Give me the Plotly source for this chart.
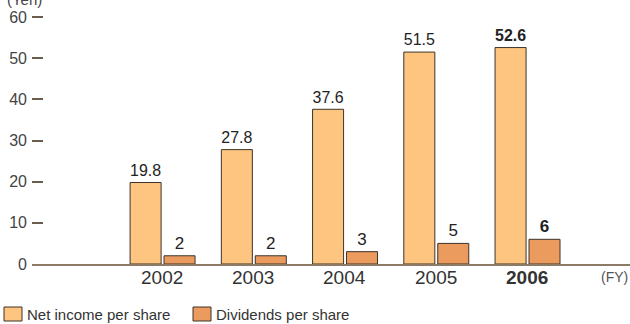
import plotly.graph_objects as go

years = ["2002", "2003", "2004", "2005", "2006"]
net_income = [19.8, 27.8, 37.6, 51.5, 52.6]
dividends = [2, 2, 3, 5, 6]
y_ticks = [0, 10, 20, 30, 40, 50, 60]
legend_names = ["Net income per share", "Dividends per share"]

C_NET = "#FDC580"
C_DIV = "#EB9B5E"
C_EDGE = "#3d3329"
FONT = "Liberation Sans"

W, H = 630, 324
L, R, T, B = 32, 0, 13, 60
PW, PH = W - L - R, H - T - B


def px_x(px):
    return (px - L) / PW


def px_y(py):
    return (H - B - py) / PH


def lab(vals):
    out = []
    for i, v in enumerate(vals):
        s = f"{v:g}"
        out.append(f"<b>{s}</b>" if i == len(vals) - 1 else s)
    return out


fig = go.Figure()
fig.add_bar(x=years, y=net_income, name=legend_names[0], width=0.34, offset=-0.35,
            marker=dict(color=C_NET, line=dict(color=C_EDGE, width=1)),
            text=lab(net_income), textposition="outside", cliponaxis=False,
            textfont=dict(size=17, color="#222", family=FONT), showlegend=False)
fig.add_bar(x=years, y=dividends, name=legend_names[1], width=0.34, offset=0.022,
            marker=dict(color=C_DIV, line=dict(color=C_EDGE, width=1)),
            text=lab(dividends), textposition="outside", cliponaxis=False,
            textfont=dict(size=17, color="#222", family=FONT), showlegend=False)

fig.update_layout(
    width=W, height=H, margin=dict(l=L, r=R, t=T, b=B),
    paper_bgcolor="white", plot_bgcolor="white",
    font=dict(family=FONT, color="#333"),
    xaxis=dict(type="category", categoryorder="array", categoryarray=years,
               range=[-1.425, 5.129], showgrid=False, zeroline=False,
               showline=True, linecolor="#8C7B66", linewidth=2,
               ticks="", showticklabels=False),
    yaxis=dict(range=[0, 61], tickvals=y_ticks, showgrid=False, zeroline=False,
               showline=False, ticks="inside", ticklen=11, tickwidth=1.5,
               tickcolor="#6b5d4d", ticklabelstandoff=4,
               tickfont=dict(size=16, color="#444", family=FONT)),
    bargap=0.3,
)

# category labels below the axis (positioned by category index)
for i, y in enumerate(years):
    txt = f"<b>{y}</b>" if i == len(years) - 1 else y
    fig.add_annotation(text=txt, x=i, xref="x", yref="paper", y=px_y(277),
                       xanchor="center", yanchor="middle", showarrow=False,
                       font=dict(size=19, color="#333", family=FONT))

# axis unit labels
fig.add_annotation(text="(Yen)", xref="paper", yref="paper", x=px_x(24), y=px_y(-1),
                   xanchor="center", yanchor="middle", showarrow=False,
                   font=dict(size=15, color="#444", family=FONT))
fig.add_annotation(text="(FY)", xref="paper", yref="paper", x=1, y=px_y(277),
                   xanchor="right", yanchor="middle", showarrow=False,
                   font=dict(size=14, color="#555", family=FONT))

# manual legend
items = [(4, 25, C_NET, legend_names[0]), (193, 214, C_DIV, legend_names[1])]
for bx, tx, col, name in items:
    fig.add_shape(type="rect", xref="paper", yref="paper",
                  x0=px_x(bx), x1=px_x(bx + 18), y0=px_y(307), y1=px_y(321),
                  fillcolor=col, line=dict(color=C_EDGE, width=1))
    fig.add_annotation(text=name, xref="paper", yref="paper", x=px_x(tx), y=px_y(314),
                       xanchor="left", yanchor="middle", showarrow=False,
                       font=dict(size=15, color="#333", family=FONT))

fig.write_html("out.html")
